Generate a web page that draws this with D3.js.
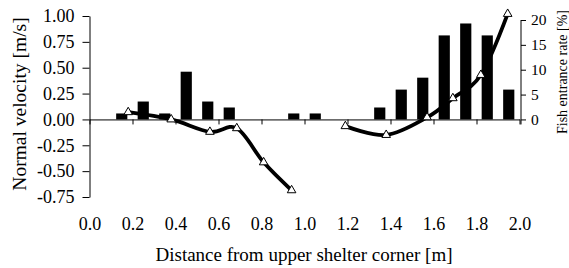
<!DOCTYPE html>
<html>
<head>
<meta charset="utf-8">
<script src="https://cdn.jsdelivr.net/npm/d3@7"></script>
<style>
    body { margin: 0; background: #fff; }
    svg { display: block; }
    text { font-family: "Liberation Serif", "Times New Roman", serif; fill: #000; }
</style>
</head>
<body>
<div id="chart"></div>
<script>
// fish entrance rate per 0.1 m bin (right axis, %)
var binCenters = [0.15, 0.25, 0.35, 0.45, 0.55, 0.65, 0.75, 0.85, 0.95, 1.05,
                  1.15, 1.25, 1.35, 1.45, 1.55, 1.65, 1.75, 1.85, 1.95];
var entranceRate = [1.2, 3.6, 1.2, 9.6, 3.6, 2.4, 0, 0, 1.2, 1.2,
                    0, 0, 2.4, 6.0, 8.4, 16.9, 19.3, 16.9, 6.0];

// normal velocity measurements (left axis), two separate segments
var distA = [0.18, 0.38, 0.56, 0.685, 0.81, 0.94];
var velA  = [0.07, 0.0, -0.12, -0.085, -0.415, -0.685];
var distB = [1.19, 1.38, 1.57, 1.69, 1.82, 1.945];
var velB  = [-0.065, -0.15, 0.02, 0.205, 0.43, 1.02];

var xTicks = [0, 0.2, 0.4, 0.6, 0.8, 1.0, 1.2, 1.4, 1.6, 1.8, 2.0];
var velTicks = [-0.75, -0.5, -0.25, 0, 0.25, 0.5, 0.75, 1.0];
var rateTicks = [0, 5, 10, 15, 20];

var W = 569, H = 268;
var FONT = '"Liberation Serif", "Times New Roman", serif';

var svg = d3.select('#chart').append('svg')
            .attr('width', W)
            .attr('height', H);

var x = d3.scaleLinear().domain([0, 2]).range([89.5, 519.5]);
var yL = d3.scaleLinear().domain([-0.75, 1]).range([197, 16]);
var yR = d3.scaleLinear().domain([0, 20]).range([yL(0), 20]);

// bars (drawn first, line goes over them)
var halfW = x(0.026) - x(0);
svg.append('g').selectAll('rect')
    .data(binCenters.map(function(c, i) { return {c: c, v: entranceRate[i]}; }))
    .enter().append('rect')
    .attr('x', function(d) { return x(d.c) - halfW; })
    .attr('width', 2 * halfW)
    .attr('y', function(d) { return yR(d.v); })
    .attr('height', function(d) { return yR(0) - yR(d.v); })
    .attr('fill', '#000');

// zero line with small ticks
var xAxisZero = svg.append('g')
    .attr('transform', 'translate(0,' + yL(0) + ')')
    .call(d3.axisBottom(x).tickValues(xTicks).tickSizeInner(5).tickSizeOuter(0).tickFormat(''));
xAxisZero.select('.domain').attr('stroke', '#000');
xAxisZero.selectAll('line').attr('stroke', '#000');

// x tick labels, low position
var xLabels = svg.append('g')
    .attr('transform', 'translate(0,' + (yL(-0.75) + 20.5) + ')')
    .call(d3.axisBottom(x).tickValues(xTicks).tickSize(0).tickPadding(0)
            .tickFormat(function(d) { return d.toFixed(1); }))
    .attr('font-family', FONT)
    .attr('font-size', 18);
xLabels.select('.domain').remove();
xLabels.selectAll('text').style('font-family', FONT);

// left axis
var left = svg.append('g')
    .attr('transform', 'translate(' + x(0) + ',0)')
    .call(d3.axisLeft(yL).tickValues(velTicks).tickSizeInner(7).tickSizeOuter(0).tickPadding(8)
            .tickFormat(function(d) { return d.toFixed(2); }))
    .attr('font-family', FONT)
    .attr('font-size', 18);
left.selectAll('text').style('font-family', FONT);

// right axis
var right = svg.append('g')
    .attr('transform', 'translate(' + (x(2) + 1.5) + ',0)')
    .call(d3.axisRight(yR).tickValues(rateTicks).tickSizeInner(5).tickSizeOuter(0).tickPadding(5))
    .attr('font-family', FONT)
    .attr('font-size', 15.5);
right.selectAll('text').style('font-family', FONT);
right.select('.domain').attr('d', 'M0,' + yR(20) + 'V' + (yR(0) + 5));

// velocity lines
var line = d3.line()
    .x(function(d) { return x(d[0]); })
    .y(function(d) { return yL(d[1]); })
    .curve(d3.curveCatmullRom.alpha(0));

var segments = [d3.zip(distA, velA), d3.zip(distB, velB)];
segments.forEach(function(seg) {
    svg.append('path')
        .datum(seg)
        .attr('d', line)
        .attr('fill', 'none')
        .attr('stroke', '#000')
        .attr('stroke-width', 3.8)
        .attr('stroke-linejoin', 'round');
});

var tri = d3.symbol().type(d3.symbolTriangle).size(32);
segments.forEach(function(seg) {
    svg.append('g').selectAll('path')
        .data(seg)
        .enter().append('path')
        .attr('d', tri)
        .attr('transform', function(d) { return 'translate(' + x(d[0]) + ',' + yL(d[1]) + ')'; })
        .attr('fill', '#fff')
        .attr('stroke', '#000')
        .attr('stroke-width', 1);
});

// axis titles
svg.append('text')
    .attr('transform', 'translate(26,104) rotate(-90)')
    .attr('text-anchor', 'middle')
    .style('font-size', '19.5px')
    .text('Normal velocity [m/s]');

svg.append('text')
    .attr('transform', 'translate(567,72) rotate(-90)')
    .attr('text-anchor', 'middle')
    .style('font-size', '14px')
    .text('Fish entrance rate [%]');

svg.append('text')
    .attr('x', 304)
    .attr('y', 261)
    .attr('text-anchor', 'middle')
    .style('font-size', '19px')
    .text('Distance from upper shelter corner [m]');
</script>
</body>
</html>
